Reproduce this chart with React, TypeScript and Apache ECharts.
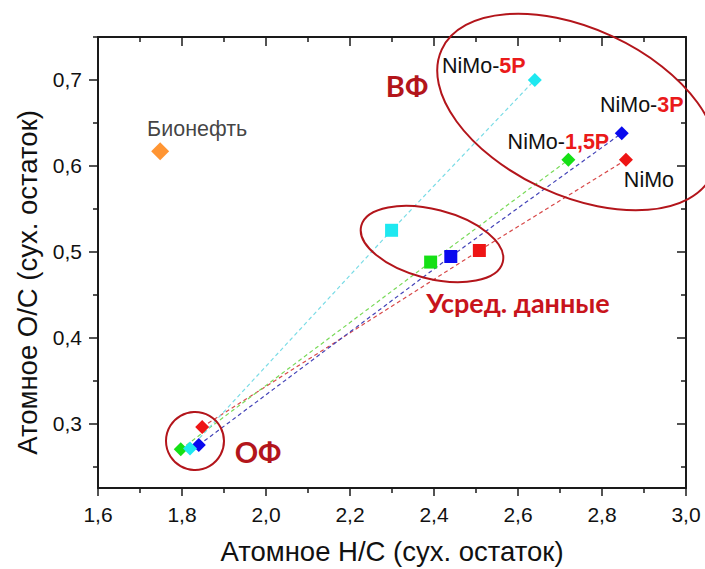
import React, { useEffect, useRef } from "react";
import * as echarts from "echarts";

// ---- axis ranges / ticks ----
const X_MIN = 1.6;
const X_MAX = 3.0;
const X_STEP = 0.2;
const Y_MIN = 0.225;
const Y_MAX = 0.75;
const yMajorTicks = [0.3, 0.4, 0.5, 0.6, 0.7];
const yMinorTicks = [0.25, 0.35, 0.45, 0.55, 0.65, 0.75];

// ---- data ----
const catalysts = ["NiMo", "NiMo-1,5P", "NiMo-3P", "NiMo-5P"];
const labelSuffix = ["", "1,5P", "3P", "5P"];
// light fraction (ОФ): [H/C, O/C]
const lightFraction = [
  [1.848, 0.296],
  [1.797, 0.27],
  [1.84, 0.275],
  [1.819, 0.271],
];
// averaged data (Усред. данные)
const averaged = [
  [2.508, 0.5015],
  [2.392, 0.488],
  [2.44, 0.4945],
  [2.299, 0.525],
];
// heavy fraction (ВФ)
const heavyFraction = [
  [2.857, 0.607],
  [2.72, 0.607],
  [2.847, 0.638],
  [2.64, 0.7],
];
const bioOilName = "Бионефть";
const bioOil = [1.748, 0.617];

// ---- styles ----
const markerColors = ["#ee1515", "#15e015", "#0a0aee", "#1ee8f0"];
const lineColors = ["#d84a4a", "#7ada5a", "#4545b8", "#7adce6"];
const labelOffsets: number[][] = [
  [23, 20],
  [-10, -18],
  [20, -28],
  [-51, -14],
];
const DARK_RED = "#b3151b";
const FONT = '"Liberation Sans", Arial, sans-serif';
const BOLD_FONT = 'Lato, "Open Sans", "Liberation Sans", sans-serif';
const LABEL_SIZE = 21.5;

const fmt = (v: number) => v.toFixed(1).replace(".", ",");

export default function App() {
  const ref = useRef<HTMLDivElement>(null);
  useEffect(() => {
    if (!ref.current) return;
    const chart = echarts.init(ref.current, null, { renderer: "svg" });

    const richStyles = {
      b: { color: "#111", fontSize: LABEL_SIZE, fontFamily: FONT },
      r: {
        color: "#ea1a1a",
        fontSize: LABEL_SIZE,
        fontWeight: "bold",
        fontFamily: FONT,
      },
    };

    const lineSeries = catalysts.map((name, i) => ({
      name,
      type: "line",
      xAxisIndex: 0,
      yAxisIndex: 0,
      z: 2,
      lineStyle: { color: lineColors[i], width: 1.2, type: [4, 3] },
      itemStyle: { color: markerColors[i] },
      data: [
        { value: lightFraction[i], symbol: "diamond", symbolSize: 14 },
        { value: averaged[i], symbol: "rect", symbolSize: 13 },
        {
          value: heavyFraction[i],
          symbol: "diamond",
          symbolSize: 14,
          label: {
            show: true,
            position: "inside",
            offset: labelOffsets[i],
            formatter: labelSuffix[i]
              ? `{b|NiMo-}{r|${labelSuffix[i]}}`
              : "{b|NiMo}",
            rich: richStyles,
          },
        },
      ],
      showAllSymbol: true,
    }));

    const axisLine = { show: true, lineStyle: { color: "#1a1a1a", width: 2 } };

    chart.setOption({
      animation: false,
      backgroundColor: "#fff",
      grid: {
        left: 98,
        right: 19,
        top: 37,
        bottom: 81,
        containLabel: false,
        outerBoundsMode: "none",
      },
      xAxis: [
        {
          type: "value",
          position: "bottom",
          min: X_MIN,
          max: X_MAX,
          interval: X_STEP,
          axisLine,
          axisTick: { show: true, length: 8, lineStyle: { color: "#1a1a1a", width: 1.5 } },
          minorTick: { show: true, splitNumber: 2, length: 5, lineStyle: { color: "#1a1a1a", width: 1.5 } },
          splitLine: { show: false },
          axisLabel: {
            formatter: fmt,
            color: "#111",
            fontSize: 21,
            fontFamily: FONT,
            margin: 16,
          },
          name: "Атомное H/C (сух. остаток)",
          nameLocation: "middle",
          nameGap: 49,
          nameTextStyle: { color: "#111", fontSize: 27.5, fontFamily: FONT },
        },
        {
          type: "value",
          position: "top",
          min: X_MIN,
          max: X_MAX,
          interval: X_STEP,
          axisLine,
          axisTick: { show: true, inside: true, length: 9, lineStyle: { color: "#1a1a1a", width: 1.5 } },
          minorTick: { show: true, splitNumber: 2, length: 5, lineStyle: { color: "#1a1a1a", width: 1.5 } },
          splitLine: { show: false },
          axisLabel: { show: false },
        },
      ],
      yAxis: [
        {
          type: "value",
          position: "left",
          min: Y_MIN,
          max: Y_MAX,
          axisLine,
          axisTick: {
            show: true,
            length: 9,
            customValues: yMajorTicks,
            lineStyle: { color: "#1a1a1a", width: 1.5 },
          },
          splitLine: { show: false },
          axisLabel: {
            customValues: yMajorTicks,
            formatter: fmt,
            color: "#111",
            fontSize: 21,
            fontFamily: FONT,
            margin: 16,
          },
          name: "Атомное O/C (сух. остаток)",
          nameLocation: "middle",
          nameGap: 56,
          nameTextStyle: {
            color: "#111",
            fontSize: 27.5,
            fontFamily: FONT,
            padding: [0, 40, 0, 0],
          },
        },
        {
          type: "value",
          position: "left",
          min: Y_MIN,
          max: Y_MAX,
          axisLine: { show: false },
          axisTick: {
            show: true,
            length: 5,
            customValues: yMinorTicks,
            lineStyle: { color: "#1a1a1a", width: 1.5 },
          },
          splitLine: { show: false },
          axisLabel: { show: false },
        },
        {
          type: "value",
          position: "right",
          min: Y_MIN,
          max: Y_MAX,
          axisLine,
          axisTick: {
            show: true,
            inside: true,
            length: 9,
            customValues: yMajorTicks,
            lineStyle: { color: "#1a1a1a", width: 1.5 },
          },
          splitLine: { show: false },
          axisLabel: { show: false },
        },
        {
          type: "value",
          position: "right",
          min: Y_MIN,
          max: Y_MAX,
          axisLine: { show: false },
          axisTick: {
            show: true,
            inside: true,
            length: 5,
            customValues: yMinorTicks,
            lineStyle: { color: "#1a1a1a", width: 1.5 },
          },
          splitLine: { show: false },
          axisLabel: { show: false },
        },
      ],
      series: [
        ...lineSeries,
        {
          name: bioOilName,
          type: "scatter",
          xAxisIndex: 0,
          yAxisIndex: 0,
          symbol: "diamond",
          symbolSize: 18,
          itemStyle: { color: "#ff7b00" },
          label: {
            show: true,
            position: "inside",
            offset: [37, -22],
            formatter: `{b|${bioOilName}}`,
            rich: richStyles,
          },
          data: [bioOil],
        },
      ],
      graphic: [
        {
          type: "ellipse",
          x: 577,
          y: 112,
          rotation: (-24.8 * Math.PI) / 180,
          shape: { cx: 0, cy: 0, rx: 149, ry: 83.5 },
          style: { fill: "none", stroke: DARK_RED, lineWidth: 2 },
          z: 10,
        },
        {
          type: "ellipse",
          x: 432,
          y: 244,
          rotation: (-14.4 * Math.PI) / 180,
          shape: { cx: 0, cy: 0, rx: 73, ry: 34.5 },
          style: { fill: "none", stroke: DARK_RED, lineWidth: 2 },
          z: 10,
        },
        {
          type: "circle",
          shape: { cx: 195, cy: 441, r: 29 },
          style: { fill: "none", stroke: DARK_RED, lineWidth: 2 },
          z: 10,
        },
        {
          type: "text",
          x: 407,
          y: 85,
          style: {
            text: "ВФ",
            fill: DARK_RED,
            font: `bold 29px ${BOLD_FONT}`,
            textAlign: "center",
            textVerticalAlign: "middle",
          },
          z: 10,
        },
        {
          type: "text",
          x: 258,
          y: 451,
          style: {
            text: "ОФ",
            fill: DARK_RED,
            font: `bold 29px ${BOLD_FONT}`,
            textAlign: "center",
            textVerticalAlign: "middle",
          },
          z: 10,
        },
        {
          type: "text",
          x: 518,
          y: 302,
          style: {
            text: "Усред. данные",
            fill: "#c8141c",
            font: `bold 27px ${BOLD_FONT}`,
            textAlign: "center",
            textVerticalAlign: "middle",
          },
          z: 10,
        },
      ],
    });
    return () => chart.dispose();
  }, []);
  return (
    <div
      ref={ref}
      style={{ position: "absolute", left: 0, top: 0, width: 705, height: 569 }}
    />
  );
}
